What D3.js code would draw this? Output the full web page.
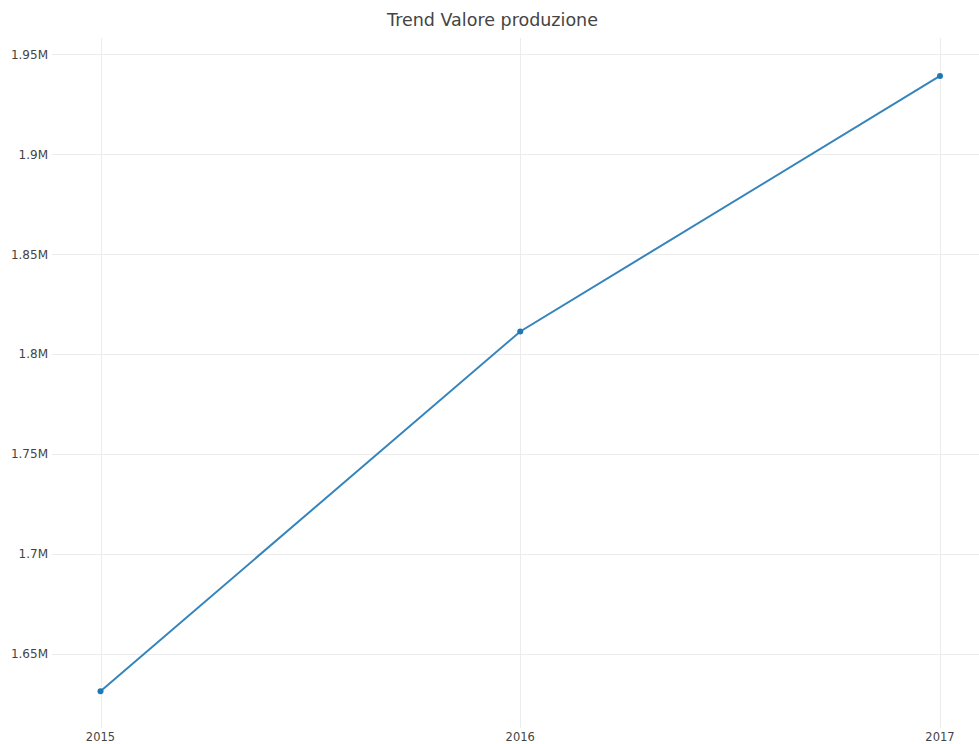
<!DOCTYPE html>
<html>
<head>
<meta charset="utf-8">
<script src="https://cdn.jsdelivr.net/npm/d3@7"></script>
<style>
  html, body { margin: 0; padding: 0; background: #fff; }
  svg { display: block; font-family: "DejaVu Sans", sans-serif; }
</style>
</head>
<body>
<svg id="chart" width="979" height="744"></svg>
<script>
// Production value by year
const years = [2015, 2016, 2017];
const values = [1631400, 1811400, 1939250];
const yTicks = [1650000, 1700000, 1750000, 1800000, 1850000, 1900000, 1950000];
const yDomain = [1613000, 1958250];
const title = "Trend Valore produzione";

const svg = d3.select("#chart");
const plot = { left: 52, right: 979, top: 38, bottom: 728 };

const x = d3.scaleLinear().domain([2015, 2017]).range([100.5, 940]);
const y = d3.scaleLinear().domain(yDomain).range([plot.bottom, plot.top]);
const fmt = d3.format(".3~s");

// Gridlines
svg.append("g").selectAll("line").data(yTicks).join("line")
  .attr("x1", plot.left).attr("x2", plot.right)
  .attr("y1", d => Math.round(y(d)) + 0.5).attr("y2", d => Math.round(y(d)) + 0.5)
  .attr("stroke", "#ececec").attr("stroke-width", 1);
svg.append("g").selectAll("line").data(years).join("line")
  .attr("x1", d => Math.round(x(d)) + 0.5).attr("x2", d => Math.round(x(d)) + 0.5)
  .attr("y1", plot.top).attr("y2", plot.bottom)
  .attr("stroke", "#ececec").attr("stroke-width", 1);

// Y tick labels
svg.append("g").selectAll("text").data(yTicks).join("text")
  .attr("x", 48).attr("y", d => y(d)).attr("dy", "0.35em")
  .attr("text-anchor", "end").attr("font-size", 12).attr("fill", "#444")
  .text(d => fmt(d));

// X tick labels
svg.append("g").selectAll("text").data(years).join("text")
  .attr("x", d => x(d)).attr("y", 741)
  .attr("text-anchor", "middle").attr("font-size", 11.5).attr("fill", "#444")
  .text(d => d);

// Line and markers
const pts = years.map((yr, i) => [yr, values[i]]);
svg.append("path").datum(pts)
  .attr("fill", "none").attr("stroke", "#1f77b4").attr("stroke-width", 2)
  .attr("stroke-opacity", 0.9)
  .attr("d", d3.line().x(d => x(d[0])).y(d => y(d[1])));
svg.append("g").selectAll("circle").data(pts).join("circle")
  .attr("cx", d => x(d[0])).attr("cy", d => y(d[1])).attr("r", 3)
  .attr("fill", "#1f77b4");

// Title
svg.append("text").attr("x", 492.5).attr("y", 26)
  .attr("text-anchor", "middle").attr("font-size", 17.5).attr("fill", "#444")
  .text(title);
</script>
</body>
</html>
